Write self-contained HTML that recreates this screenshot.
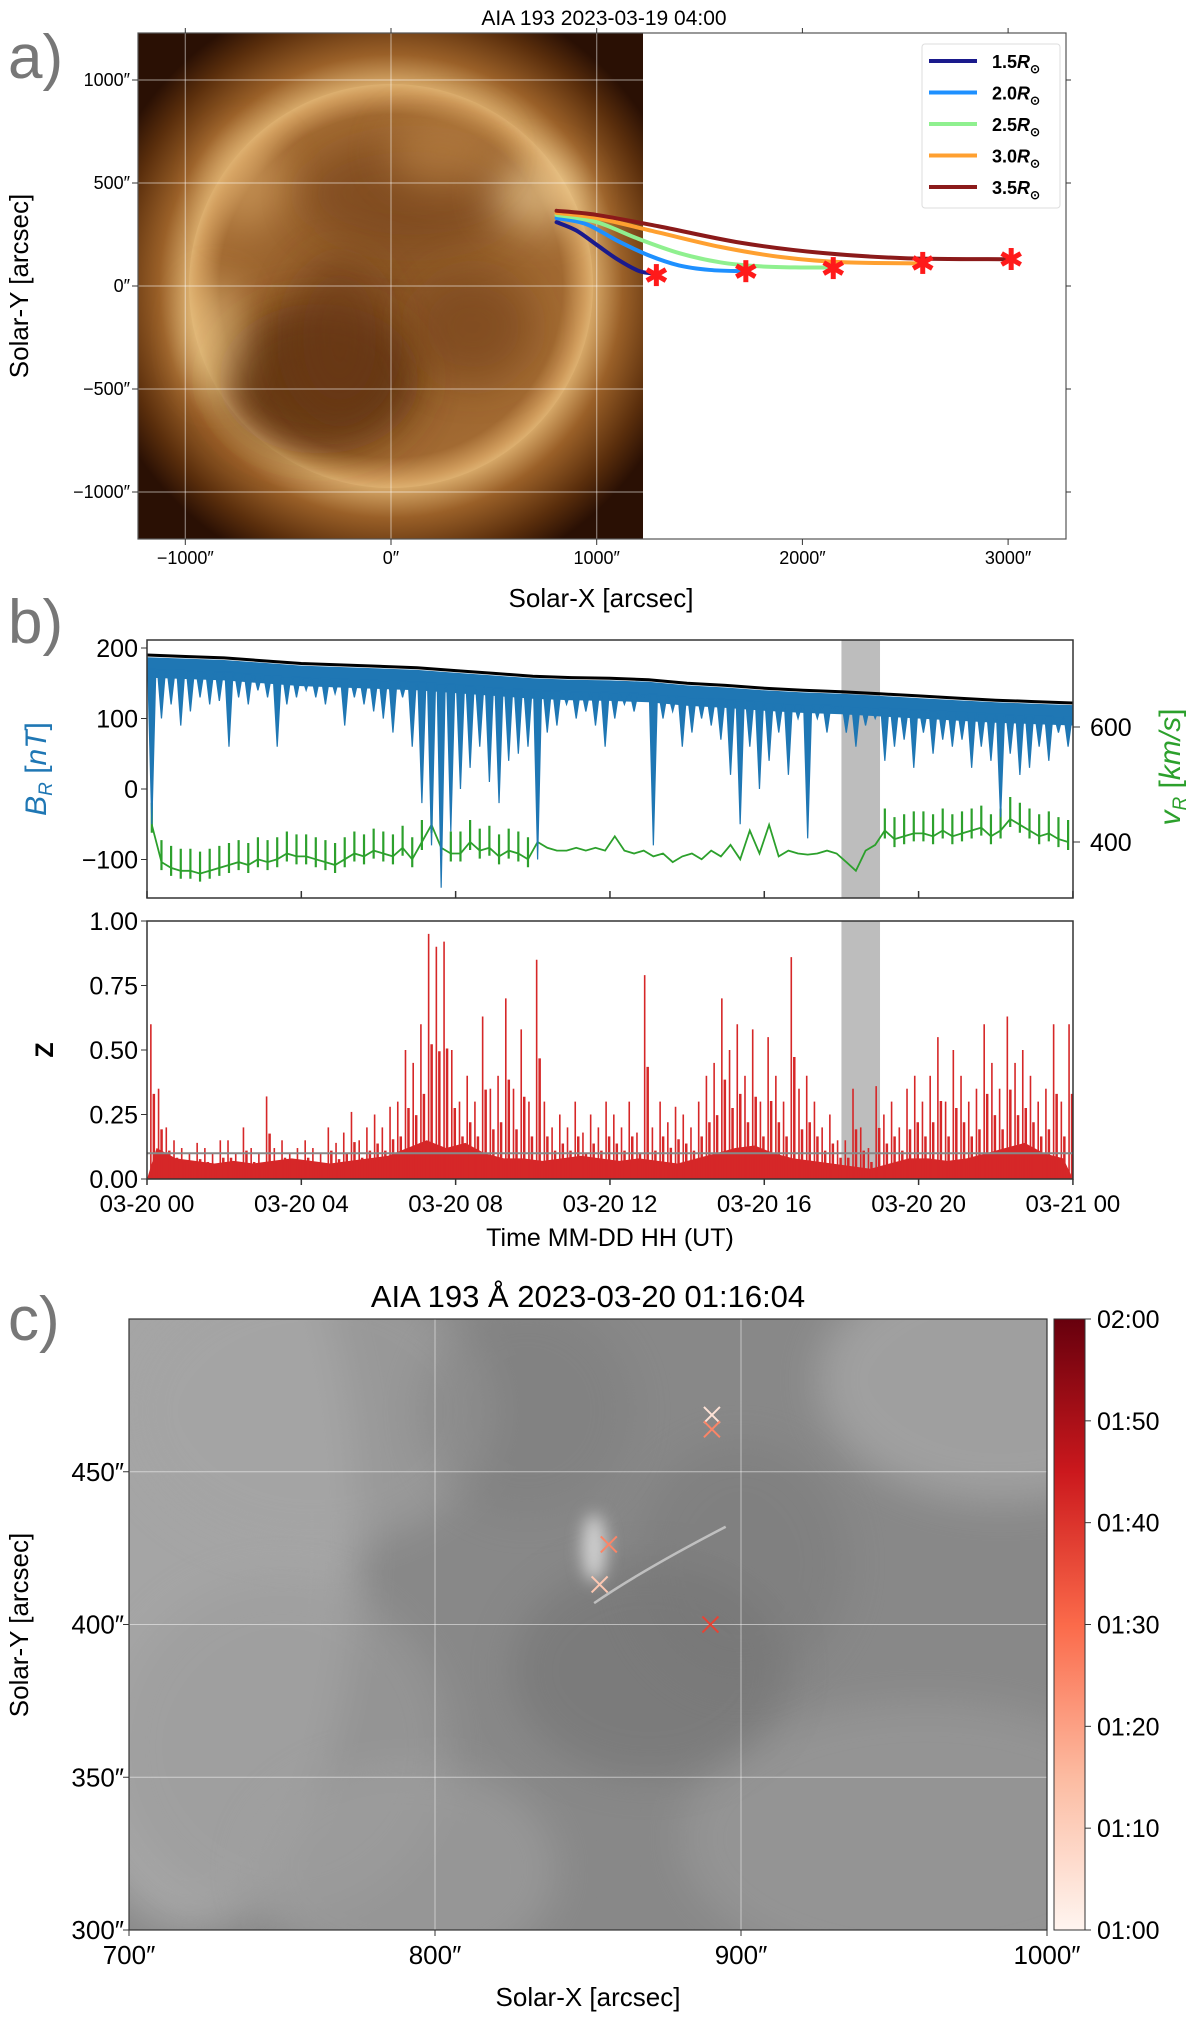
<!DOCTYPE html>
<html><head><meta charset="utf-8">
<style>
html,body{margin:0;padding:0;background:#fff;}
svg{display:block;font-family:"Liberation Sans",sans-serif;}
</style></head>
<body>
<svg id="fig" width="1200" height="2026" viewBox="0 0 1200 2026" xmlns="http://www.w3.org/2000/svg">
<defs>
<radialGradient id="sunGrad" cx="0.5" cy="0.5" r="0.5">
<stop offset="0" stop-color="#8a5626"/>
<stop offset="0.85" stop-color="#a26a32"/>
<stop offset="0.96" stop-color="#d09c5c"/>
<stop offset="1" stop-color="#ddb070"/>
</radialGradient>
<radialGradient id="coronaGrad" cx="0.5" cy="0.5" r="0.5">
<stop offset="0.66" stop-color="#d6a868"/>
<stop offset="0.76" stop-color="#9a6028"/>
<stop offset="0.9" stop-color="#5a2e0c"/>
<stop offset="1" stop-color="#2a1004"/>
</radialGradient>
<linearGradient id="cbarGrad" x1="0" y1="1" x2="0" y2="0">
<stop offset="0" stop-color="#fff5f0"/>
<stop offset="0.25" stop-color="#fcbba1"/>
<stop offset="0.5" stop-color="#fb6a4a"/>
<stop offset="0.75" stop-color="#cb181d"/>
<stop offset="1" stop-color="#67000d"/>
</linearGradient>
<filter id="blur8" x="-100%" y="-100%" width="300%" height="300%"><feGaussianBlur stdDeviation="8"/></filter>
<filter id="blur20" x="-100%" y="-100%" width="300%" height="300%"><feGaussianBlur stdDeviation="20"/></filter>
<clipPath id="clipA"><rect x="138" y="33" width="505" height="506"/></clipPath>
<clipPath id="clipC"><rect x="129" y="1319" width="918" height="611"/></clipPath>
</defs>
</svg>
<script>
// ---------- Panel a data (arcsec) ----------
const lineLabels = ["1.5","2.0","2.5","3.0","3.5"];
const line15 = [[805,310],[900,270],[1000,200],[1100,130],[1200,75],[1260,62]];
const line20 = [[805,330],[950,300],[1100,220],[1250,150],[1400,100],[1550,78],[1700,72]];
const line25 = [[805,345],[1000,310],[1200,230],[1400,160],[1600,115],[1800,95],[2000,90],[2130,90]];
const line30 = [[805,355],[1000,330],[1300,260],[1600,190],[1900,140],[2200,115],[2560,110]];
const line35 = [[805,365],[1000,345],[1300,290],[1700,210],[2100,160],[2500,135],[3000,130]];
const starPts = [[1290,53],[1725,72],[2150,87],[2585,112],[3015,131]];
const aTicks = [-1000,0,1000,2000,3000];
const aYTicks = [1000,500,0,-500,-1000];

// ---------- Panel b data ----------
const timeTicks = ["03-20 00","03-20 04","03-20 08","03-20 12","03-20 16","03-20 20","03-21 00"];
const bTop = [190,188,186,182,178,176,174,172,168,164,160,158,157,155,150,147,143,140,138,135,132,129,126,124,122];
const bDip = [-50,100,120,90, 110,130,120,125, 60,130,120,140, 130,60,120,130, 140,130,120,135, 90,130,120,110,
 100,80,130,60, -20,-80,-140,-60, 0,30,60,10, -20,40,50,60, -100,80,90,120, 100,110,90,60,
 100,120,110,130, -80,100,110,60, 80,100,90,70, 20,-50,60,0, 40,80,20,100, -70,100,80,110,
 80,60,90,100, 40,60,70,30, 80,50,70,60, 70,30,60,40, -40,50,20,30, 60,40,80,60];
const vR = [430,365,355,350, 350,345,350,355, 360,365,360,370, 365,370,380,375, 375,370,365,360, 370,380,375,385,
 380,375,390,370, 400,430,390,380, 380,400,385,390, 375,385,380,370, 400,390,385,385, 390,385,390,385,
 410,385,380,385, 375,380,365,375, 380,370,385,375, 395,370,420,380, 430,375,385,380, 378,380,385,380,
 365,350,385,395, 420,405,410,415, 415,410,420,410, 415,420,425,410, 420,440,430,420, 410,415,405,400];
const bYTicks = [200,100,0,-100];
const vTicks = [600,400];
const zTicks = [0,0.25,0.5,0.75,1.0];
const zPeaks = [0.6,0.35,0.2,0.15,0.12,0.1,0.14,0.12,0.1,0.15,
 0.15,0.1,0.2,0.12,0.1,0.32,0.12,0.15,0.1,0.12,
 0.15,0.12,0.1,0.2,0.14,0.18,0.26,0.15,0.2,0.25,
 0.2,0.28,0.3,0.5,0.45,0.6,0.95,0.9,0.92,0.5,
 0.3,0.4,0.3,0.63,0.35,0.4,0.7,0.35,0.58,0.3,
 0.85,0.3,0.2,0.25,0.2,0.3,0.18,0.25,0.2,0.3,
 0.25,0.2,0.3,0.18,0.79,0.2,0.3,0.22,0.28,0.25,
 0.2,0.3,0.4,0.45,0.7,0.5,0.6,0.4,0.58,0.3,
 0.55,0.4,0.3,0.86,0.35,0.4,0.3,0.2,0.25,0.15,
 0.15,0.35,0.2,0.12,0.36,0.25,0.3,0.2,0.35,0.4,
 0.3,0.4,0.55,0.3,0.5,0.4,0.3,0.35,0.6,0.45,
 0.35,0.63,0.45,0.5,0.4,0.3,0.35,0.6,0.3,0.6];
const zBase = [0.12,0.08,0.07,0.06,0.07,0.06,0.07,0.08,0.07,0.06,0.07,0.08,0.09,0.12,0.15,0.12,
 0.14,0.1,0.08,0.08,0.07,0.08,0.09,0.08,0.07,0.08,0.07,0.06,0.08,0.1,0.12,0.13,
 0.1,0.08,0.07,0.06,0.05,0.04,0.06,0.08,0.08,0.07,0.08,0.1,0.12,0.14,0.1,0.08];
const zThresh = 0.1;
const shadeStart = 18, shadeEnd = 19;

// ---------- Panel c data ----------
const cXTicks = [700,800,900,1000];
const cYTicks = [450,400,350,300];
const cbarLabels = ["01:00","01:10","01:20","01:30","01:40","01:50","02:00"];
const markX = [890.5,890.5,856.8,853.8,890];
const markY = [468.6,463.9,426.2,413.1,400];
const markMin = [5,25,25,12,37];

const NS = "http://www.w3.org/2000/svg";
const svg = document.getElementById("fig");
function mk(tag, attrs, parent){
  const e = document.createElementNS(NS, tag);
  for (const k in attrs) e.setAttribute(k, attrs[k]);
  (parent||svg).appendChild(e);
  return e;
}
function txt(s, attrs, parent){ const e = mk("text", attrs, parent); e.textContent = s; return e; }

// ================= PANEL A =================
const AX = a => 391 + a*0.2057;
const AY = a => 286 - a*0.2060;
const gA = mk("g",{});


const pa = txt("a)",{x:8,y:78,"font-size":62,fill:"#777"},gA);


const ta = txt("AIA 193 2023-03-19 04:00",{x:604,y:25,"font-size":21,"text-anchor":"middle"},gA);


const img = mk("g",{"clip-path":"url(#clipA)"},gA);


mk("rect",{x:138,y:33,width:505,height:506,fill:"#2a1004"},img);
mk("ellipse",{cx:AX(0),cy:AY(0),rx:305,ry:305,fill:"url(#coronaGrad)"},img);
mk("ellipse",{cx:AX(0),cy:AY(0),rx:202,ry:202,fill:"url(#sunGrad)"},img);
const blobs=[[-350,-450,100,75,"#5a2e0c",0.8],[-250,-250,50,80,"#6a3812",0.6],[100,450,110,55,"#6e3a14",0.5],[400,-200,60,55,"#6e3a14",0.5],[700,450,45,35,"#f5d8a0",0.6],[-850,-250,25,55,"#f0d090",0.6],[-700,500,35,45,"#e0b070",0.5],[250,650,55,35,"#c08848",0.6]];
blobs.forEach(b=>mk("ellipse",{cx:AX(b[0]),cy:AY(b[1]),rx:b[2],ry:b[3],fill:b[4],opacity:b[5],filter:"url(#blur20)"},img));
aTicks.slice(0,3).forEach(t=>mk("line",{x1:AX(t),x2:AX(t),y1:33,y2:539,stroke:"#fff",opacity:0.45,"stroke-width":1.2},img));
aYTicks.forEach(t=>mk("line",{x1:138,x2:643,y1:AY(t),y2:AY(t),stroke:"#fff",opacity:0.45,"stroke-width":1.2},img));
const frA = mk("rect",{x:138,y:33,width:928,height:506,fill:"none",stroke:"#555","stroke-width":1.2},gA);


aTicks.forEach(t=>{
  mk("line",{x1:AX(t),x2:AX(t),y1:539,y2:545,stroke:"#333"},gA);
  mk("line",{x1:AX(t),x2:AX(t),y1:33,y2:28,stroke:"#333"},gA);
  const l = txt((t<0?"\u2212"+(-t):t)+"\u2033",{x:AX(t),y:564,"font-size":18,"text-anchor":"middle"},gA);
  
  
});
aYTicks.forEach(t=>{
  mk("line",{x1:132,x2:138,y1:AY(t),y2:AY(t),stroke:"#333"},gA);
  mk("line",{x1:1066,x2:1071,y1:AY(t),y2:AY(t),stroke:"#333"},gA);
  const l = txt((t<0?"\u2212"+(-t):t)+"\u2033",{x:130,y:AY(t)+6,"font-size":18,"text-anchor":"end"},gA);
  
  
});
const xlA = txt("Solar-X [arcsec]",{x:601,y:607,"font-size":26,"text-anchor":"middle"},gA);


const ylA = txt("Solar-Y [arcsec]",{x:0,y:0,"font-size":26,"text-anchor":"middle",transform:"translate(28,286) rotate(-90)"},gA);


function smoothPath(pts){
  let d = "M"+pts[0][0]+","+pts[0][1];
  for(let i=0;i<pts.length-1;i++){
    const p0=pts[Math.max(0,i-1)],p1=pts[i],p2=pts[i+1],p3=pts[Math.min(pts.length-1,i+2)];
    const c1=[p1[0]+(p2[0]-p0[0])/6,p1[1]+(p2[1]-p0[1])/6];
    const c2=[p2[0]-(p3[0]-p1[0])/6,p2[1]-(p3[1]-p1[1])/6];
    d+=" C"+c1.join(",")+" "+c2.join(",")+" "+p2.join(",");
  }
  return d;
}
const lineCols = ["#1a1a8c","#1e90ff","#8ff08f","#ffa030","#8b1a1a"];
[line15,line20,line25,line30,line35].forEach((ln,i)=>{
  const p = mk("path",{d:smoothPath(ln.map(q=>[AX(q[0]),AY(q[1])])),fill:"none",stroke:lineCols[i],"stroke-width":4,"stroke-linecap":"round"},gA);
  
  
});
starPts.forEach(s=>{
  const g = mk("g",{transform:"translate("+AX(s[0])+","+AY(s[1])+")"},gA);
  
  
  [0,60,120].forEach(a=>mk("line",{x1:-11,x2:11,y1:0,y2:0,stroke:"#ff1a1a","stroke-width":5,transform:"rotate("+(a+30)+")"},g));
});
const leg = mk("g",{},gA);


mk("rect",{x:922,y:44,width:138,height:164,rx:3,fill:"#fff",stroke:"#ddd"},leg);
lineLabels.forEach((l,i)=>{
  const y = 61+i*31.5;
  const e = mk("g",{},leg);
  
  
  mk("line",{x1:929,x2:977,y1:y,y2:y,stroke:lineCols[i],"stroke-width":4},e);
  const t = txt(l,{x:992,y:y+7,"font-size":18,"font-weight":"bold"},e);
  const r = mk("tspan",{"font-style":"italic"},t); r.textContent="R";
  const s = mk("tspan",{"font-size":12,dy:5},t); s.textContent="\u2299";
});

// ================= PANEL B =================
const T = h => 147 + h*38.58;
const BY = v => 789 - v*0.705;
const VY = v => 842 - (v-400)*0.575;
const ZY = z => 1179 - z*258;
const gB = mk("g",{});


const pb = txt("b)",{x:8,y:643,"font-size":62,fill:"#777"},gB);


[[640,898],[921,1179]].forEach(r=>{
  const s = mk("rect",{x:T(shadeStart),y:r[0],width:T(shadeEnd)-T(shadeStart),height:r[1]-r[0],fill:"#bdbdbd"},gB);
  
  
});
let dv = "";
vR.forEach((v,i)=>{ dv += (i?"L":"M")+T(i/4+0.125).toFixed(1)+","+VY(v).toFixed(1); });
const vp = mk("path",{d:dv,fill:"none",stroke:"#2ca02c","stroke-width":1.8},gB);


vR.forEach((v,i)=>{
  if(i<40||i>=76){
    const sp = mk("line",{x1:T(i/4+0.125),x2:T(i/4+0.125),y1:VY(v)+8,y2:VY(v)-22,stroke:"#2ca02c","stroke-width":2.2},gB);
    
    
  }
});
let band = "";
bTop.forEach((v,i)=>{ band += (i?"L":"M")+T(i).toFixed(1)+","+BY(v-3).toFixed(1); });
for(let i=bTop.length-1;i>=0;i--) band += "L"+T(i).toFixed(1)+","+BY(bTop[i]-32).toFixed(1);
const bb = mk("path",{d:band+"Z",fill:"#1f77b4"},gB);


bDip.forEach((v,i)=>{
  const h = i/4+0.125;
  const top = bTop[Math.floor(h)] + (bTop[Math.min(24,Math.ceil(h))]-bTop[Math.floor(h)])*(h-Math.floor(h));
  const d = mk("path",{d:"M"+(T(h)-4)+","+BY(top-20)+" L"+T(h)+","+BY(v)+" L"+(T(h)+4)+","+BY(top-20)+"Z",fill:"#1f77b4",stroke:"#1f77b4","stroke-width":1.2},gB);
  
  
});
let dk = "";
bTop.forEach((v,i)=>{ dk += (i?"L":"M")+T(i).toFixed(1)+","+BY(v).toFixed(1); });
const bk = mk("path",{d:dk,fill:"none",stroke:"#000","stroke-width":3},gB);


let zb = "M"+T(0)+","+ZY(0);
zBase.forEach((z,i)=>{ zb += "L"+T(i/2+0.25).toFixed(1)+","+ZY(z).toFixed(1); });
zb += "L"+T(24)+","+ZY(0)+"Z";
const zf = mk("path",{d:zb,fill:"#d62728"},gB);


zPeaks.forEach((z,i)=>{
  const x = T(i/5+0.1);
  const p = mk("line",{x1:x,x2:x,y1:ZY(0),y2:ZY(z),stroke:"#d62728","stroke-width":1.6},gB);
  
  
  const p2 = mk("line",{x1:x+3,x2:x+3,y1:ZY(0),y2:ZY(z*0.55),stroke:"#d62728","stroke-width":2.5},gB);
  
  
});
const th = mk("line",{x1:T(0),x2:T(24),y1:ZY(zThresh),y2:ZY(zThresh),stroke:"#888","stroke-width":2},gB);


[[640,898,'br-axes-frame'],[921,1179,'z-axes-frame']].forEach(r=>{
  const f = mk("rect",{x:147,y:r[0],width:926,height:r[1]-r[0],fill:"none",stroke:"#333","stroke-width":1.5},gB);
  
  
});
timeTicks.forEach((l,i)=>{
  const x = T(i*4);
  mk("line",{x1:x,x2:x,y1:898,y2:891,stroke:"#333","stroke-width":1.5},gB);
  mk("line",{x1:x,x2:x,y1:1179,y2:1185,stroke:"#333","stroke-width":1.5},gB);
  const t = txt(l,{x:x,y:1212,"font-size":24,"text-anchor":"middle"},gB);
  
  
});
bYTicks.forEach(v=>{
  mk("line",{x1:141,x2:147,y1:BY(v),y2:BY(v),stroke:"#333"},gB);
  const t = txt(v<0?"\u2212"+(-v):String(v),{x:138,y:BY(v)+9,"font-size":25,"text-anchor":"end"},gB);
  
  
});
vTicks.forEach(v=>{
  mk("line",{x1:1073,x2:1080,y1:VY(v),y2:VY(v),stroke:"#333"},gB);
  const t = txt(String(v),{x:1090,y:VY(v)+9,"font-size":25},gB);
  
  
});
zTicks.forEach(z=>{
  mk("line",{x1:141,x2:147,y1:ZY(z),y2:ZY(z),stroke:"#333"},gB);
  const t = txt(z.toFixed(2),{x:138,y:ZY(z)+9,"font-size":25,"text-anchor":"end"},gB);
  
  
});
const bl = txt("",{x:0,y:0,"font-size":30,"text-anchor":"middle",fill:"#1f77b4",transform:"translate(46,769) rotate(-90)"},gB);


bl.innerHTML = '<tspan font-style="italic">B</tspan><tspan font-style="italic" font-size="19" dy="6">R</tspan><tspan dy="-6"> [</tspan><tspan font-style="italic">nT</tspan>]';
const vl = txt("",{x:0,y:0,"font-size":30,"text-anchor":"middle",fill:"#2ca02c",transform:"translate(1180,767) rotate(-90)"},gB);


vl.innerHTML = '<tspan font-style="italic">v</tspan><tspan font-style="italic" font-size="19" dy="6">R</tspan><tspan dy="-6"> [</tspan><tspan font-style="italic">km/s</tspan>]';
const zl = txt("Z",{x:0,y:0,"font-size":25,"font-weight":"bold","text-anchor":"middle",transform:"translate(53,1050) rotate(-90)"},gB);


const tl = txt("Time MM-DD HH (UT)",{x:610,y:1246,"font-size":25,"text-anchor":"middle"},gB);



// ================= PANEL C =================
const CX = x => 129 + (x-700)*3.06;
const CY = y => 1930 - (y-300)*3.055;
const gC = mk("g",{});


const pc = txt("c)",{x:8,y:1340,"font-size":62,fill:"#777"},gC);


const tc = txt("AIA 193 \u00C5 2023-03-20 01:16:04",{x:588,y:1307,"font-size":31,"text-anchor":"middle"},gC);


const imc = mk("g",{"clip-path":"url(#clipC)"},gC);


mk("rect",{x:129,y:1319,width:918,height:611,fill:"#888"},imc);
const cblobs=[[720,430,55,130,"#adadad",0.8],[760,470,60,45,"#a4a4a4",0.6],[750,360,55,55,"#9c9c9c",0.6],[790,320,50,35,"#a0a0a0",0.6],[985,480,60,40,"#aaaaaa",0.7],[960,330,80,45,"#9c9c9c",0.6],[870,385,45,35,"#707070",0.5],[900,420,35,40,"#767676",0.4],[830,470,35,35,"#7a7a7a",0.4]];
cblobs.forEach(b=>mk("ellipse",{cx:CX(b[0]),cy:CY(b[1]),rx:b[2]*3.06,ry:b[3]*3.055,fill:b[4],opacity:b[5],filter:"url(#blur20)"},imc));
mk("ellipse",{cx:CX(852),cy:CY(425),rx:12,ry:34,fill:"#d0d0d0",filter:"url(#blur8)"},imc);
mk("path",{d:"M"+CX(852)+","+CY(407)+" Q"+CX(868)+","+CY(418)+" "+CX(895)+","+CY(432),stroke:"#cfcfcf","stroke-width":2.5,fill:"none",opacity:0.8},imc);
cXTicks.slice(1,3).forEach(t=>mk("line",{x1:CX(t),x2:CX(t),y1:1319,y2:1930,stroke:"#fff",opacity:0.5},imc));
cYTicks.slice(0,3).forEach(t=>mk("line",{x1:129,x2:1047,y1:CY(t),y2:CY(t),stroke:"#fff",opacity:0.5},imc));
const frC = mk("rect",{x:129,y:1319,width:918,height:611,fill:"none",stroke:"#333","stroke-width":1.2},gC);


cXTicks.forEach(t=>{
  mk("line",{x1:CX(t),x2:CX(t),y1:1930,y2:1936,stroke:"#333"},gC);
  const l = txt(t+"\u2033",{x:CX(t),y:1964,"font-size":26,"text-anchor":"middle"},gC);
  
  
});
cYTicks.forEach(t=>{
  mk("line",{x1:123,x2:129,y1:CY(t),y2:CY(t),stroke:"#333"},gC);
  const l = txt(t+"\u2033",{x:124,y:CY(t)+9,"font-size":26,"text-anchor":"end"},gC);
  
  
});
const xlC = txt("Solar-X [arcsec]",{x:588,y:2006,"font-size":26,"text-anchor":"middle"},gC);


const ylC = txt("Solar-Y [arcsec]",{x:0,y:0,"font-size":26,"text-anchor":"middle",transform:"translate(28,1625) rotate(-90)"},gC);


const redStops = [[0,[255,245,240]],[15,[252,187,161]],[30,[251,106,74]],[45,[203,24,29]],[60,[103,0,13]]];
function reds(m){
  for(let i=0;i<redStops.length-1;i++){
    const a=redStops[i],b=redStops[i+1];
    if(m<=b[0]){const f=(m-a[0])/(b[0]-a[0]);return "rgb("+a[1].map((c,j)=>Math.round(c+(b[1][j]-c)*f)).join(",")+")";}
  }
  return "rgb(103,0,13)";
}
markX.forEach((x,i)=>{
  const g = mk("g",{transform:"translate("+CX(x)+","+CY(markY[i])+")",stroke:reds(markMin[i]),"stroke-width":2},gC);
  
  
  mk("line",{x1:-8,y1:-8,x2:8,y2:8},g);
  mk("line",{x1:-8,y1:8,x2:8,y2:-8},g);
});
const cb = mk("rect",{x:1054,y:1319,width:31,height:611,fill:"url(#cbarGrad)",stroke:"#333"},gC);


cbarLabels.forEach((l,i)=>{
  const y = 1930 - i*611/6;
  mk("line",{x1:1085,x2:1091,y1:y,y2:y,stroke:"#333"},gC);
  const t = txt(l,{x:1097,y:y+9,"font-size":25},gC);
  
  
});
</script>
</body></html>
